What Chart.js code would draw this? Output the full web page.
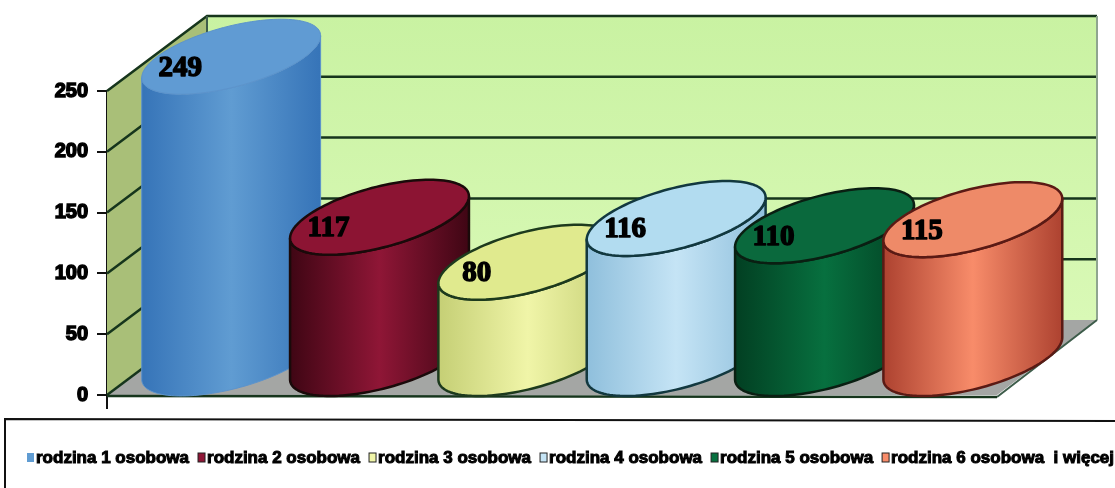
<!DOCTYPE html>
<html>
<head>
<meta charset="utf-8">
<title>Rodziny</title>
<script src="https://cdn.jsdelivr.net/npm/chart.js@4"></script>
<style>
    html, body { margin: 0; padding: 0; background: #fff; overflow: hidden; }
    #box { position: relative; width: 1115px; height: 488px; filter: blur(0.7px); }
</style>
</head>
<body>
<div id="box"><canvas id="chart"></canvas></div>
<script>
// dane
const categories = ['rodzina 1 osobowa', 'rodzina 2 osobowa', 'rodzina 3 osobowa',
    'rodzina 4 osobowa', 'rodzina 5 osobowa', 'rodzina 6 osobowa  i więcej'];
const values = [249, 117, 80, 116, 110, 115];
const yTicks = [0, 50, 100, 150, 200, 250];

// kolory walców: krawędź, środek, wieczko, obrys
const edgeColors = ['#3674b8', '#3f0614', '#c5cf75', '#8fbfdc', '#023f22', '#ad4230'];
const midColors = ['#609cd2', '#8f1636', '#f0f5a8', '#c5e4f5', '#07703f', '#f88c6a'];
const topColors = ['#609bd3', '#8c1433', '#e0ea8e', '#b2dcf0', '#0a693d', '#ee8a68'];
const lineColors = ['#5c93cc', '#1a0a0a', '#1d3a1d', '#12383f', '#0a1f12', '#5a1a14'];

const depthX = 100;
const depthY = 75;
const lineDark = '#16351c';

// rysowanie tła wykresu 3D
function drawWalls(chart) {
    const { ctx } = chart;
    const { x: xs, y: ys } = chart.scales;
    const left = xs.left, right = xs.right;
    const top = ys.getPixelForValue(250), bottom = ys.getPixelForValue(0);

    // tylna ściana
    const back = ctx.createLinearGradient(0, top - depthY, 0, bottom - depthY);
    back.addColorStop(0, '#c9f2a2');
    back.addColorStop(1, '#d9f9b6');
    ctx.fillStyle = back;
    ctx.fillRect(left + depthX, top - depthY, right - left, bottom - top);

    // lewa ściana
    ctx.fillStyle = '#a9bf78';
    ctx.beginPath();
    ctx.moveTo(left, top);
    ctx.lineTo(left + depthX, top - depthY);
    ctx.lineTo(left + depthX, bottom - depthY);
    ctx.lineTo(left, bottom);
    ctx.closePath();
    ctx.fill();

    // podłoga
    ctx.fillStyle = '#a4a6a4';
    ctx.beginPath();
    ctx.moveTo(left, bottom);
    ctx.lineTo(left + depthX, bottom - depthY);
    ctx.lineTo(right + depthX, bottom - depthY);
    ctx.lineTo(right, bottom);
    ctx.closePath();
    ctx.fill();

    // linie siatki
    ctx.strokeStyle = lineDark;
    ctx.lineWidth = 2.5;
    yTicks.forEach(t => {
        const y = ys.getPixelForValue(t);
        ctx.beginPath();
        ctx.moveTo(left, y);
        ctx.lineTo(left + depthX, y - depthY);
        if (t !== 0) ctx.lineTo(right + depthX, y - depthY);
        ctx.stroke();
    });

    ctx.lineWidth = 2;
    ctx.strokeStyle = '#8fa58f';
    ctx.beginPath();
    ctx.moveTo(right + depthX, top - depthY);
    ctx.lineTo(right + depthX, bottom - depthY);
    ctx.stroke();

    ctx.strokeStyle = '#3d5c4a';
    ctx.beginPath();
    ctx.moveTo(left + depthX, top - depthY);
    ctx.lineTo(left + depthX, bottom - depthY);
    ctx.moveTo(right, bottom + 2);
    ctx.lineTo(right + depthX, bottom - depthY);
    ctx.stroke();

    ctx.strokeStyle = lineDark;
    ctx.lineWidth = 2.5;
    ctx.beginPath();
    ctx.moveTo(left, bottom + 1);
    ctx.lineTo(right, bottom + 2);
    ctx.stroke();
}

// jeden walec na podstawie słupka z Chart.js
function drawCylinder(ctx, bar, i) {
    const hw = bar.width / 2;
    const dx = depthX / 2, dy = depthY / 2;
    const cx = bar.x + dx;
    const topY = bar.y - dy + 2;
    const baseY = bar.base - dy + 2;
    const t0 = Math.atan2(dx, hw);
    const ext = Math.hypot(hw, dx);
    const point = (t, cy) => [cx + hw * Math.cos(t) + dx * Math.sin(t), cy - dy * Math.sin(t)];

    ctx.save();
    ctx.lineJoin = 'round';
    ctx.lineWidth = i === 0 ? 1 : 2.5;
    ctx.strokeStyle = lineColors[i];

    // bok walca
    const grad = ctx.createLinearGradient(cx - ext, 0, cx + ext, 0);
    grad.addColorStop(0, edgeColors[i]);
    grad.addColorStop(0.5, midColors[i]);
    grad.addColorStop(1, edgeColors[i]);
    ctx.fillStyle = grad;
    ctx.beginPath();
    for (let k = 0; k <= 60; k++) {
        const p = point(t0 - Math.PI * k / 60, baseY);
        k === 0 ? ctx.moveTo(p[0], p[1]) : ctx.lineTo(p[0], p[1]);
    }
    for (let k = 60; k >= 0; k--) {
        const p = point(t0 - Math.PI * k / 60, topY);
        ctx.lineTo(p[0], p[1]);
    }
    ctx.closePath();
    ctx.fill();
    ctx.stroke();

    // wieczko
    ctx.fillStyle = topColors[i];
    ctx.beginPath();
    for (let k = 0; k < 120; k++) {
        const p = point(Math.PI * k / 60, topY);
        k === 0 ? ctx.moveTo(p[0], p[1]) : ctx.lineTo(p[0], p[1]);
    }
    ctx.closePath();
    ctx.fill();
    ctx.stroke();

    // etykieta wartości
    ctx.font = 'bold 29px "Liberation Serif"';
    ctx.textAlign = 'center';
    ctx.textBaseline = 'middle';
    ctx.fillStyle = '#000';
    ctx.strokeStyle = '#000';
    ctx.lineWidth = 1.5;
    ctx.fillText(values[i], bar.x - 1, bar.y - 24);
    ctx.strokeText(values[i], bar.x - 1, bar.y - 24);
    ctx.restore();
}

// legenda w ramce
function drawLegend(chart) {
    const { ctx } = chart;
    ctx.save();
    ctx.strokeStyle = '#111';
    ctx.lineWidth = 2;
    ctx.beginPath();
    ctx.moveTo(5, 488);
    ctx.lineTo(5, 419);
    ctx.lineTo(1115, 421);
    ctx.stroke();

    ctx.font = 'bold 17px "Liberation Sans"';
    ctx.textBaseline = 'middle';
    let x = 27;
    categories.forEach((name, i) => {
        ctx.fillStyle = midColors[i];
        ctx.fillRect(x, 453, 7, 9);
        if (i > 0) {
            ctx.strokeStyle = '#222';
            ctx.lineWidth = 1;
            ctx.strokeRect(x, 453, 7, 9);
        }
        ctx.fillStyle = '#000';
        ctx.fillText(name, x + 9, 458);
        ctx.strokeStyle = '#000';
        ctx.lineWidth = 1;
        ctx.strokeText(name, x + 9, 458);
        x += 9 + ctx.measureText(name).width + 9;
    });
    ctx.restore();
}

const cylinderPlugin = {
    id: 'cylinders',
    beforeDatasetsDraw(chart) {
        drawWalls(chart);
    },
    afterDatasetsDraw(chart) {
        chart.getDatasetMeta(0).data.forEach((bar, i) => drawCylinder(chart.ctx, bar, i));
        drawLegend(chart);
    }
};

new Chart(document.getElementById('chart'), {
    type: 'bar',
    data: {
        labels: categories,
        datasets: [{
            data: values,
            backgroundColor: 'transparent',
            barPercentage: 1,
            categoryPercentage: 1
        }]
    },
    plugins: [cylinderPlugin],
    options: {
        responsive: true,
        maintainAspectRatio: false,
        animation: false,
        layout: { padding: { top: 91, right: 118, bottom: 79, left: 0 } },
        plugins: {
            legend: { display: false },
            title: { display: false },
            tooltip: { enabled: false }
        },
        scales: {
            x: {
                afterFit(scale) { scale.height = 14; },
                ticks: { display: false },
                border: { display: false },
                grid: {
                    drawOnChartArea: false,
                    tickLength: 14,
                    lineWidth: 2,
                    color: c => (c.index === 0 || c.index === categories.length) ? '#111' : 'transparent'
                }
            },
            y: {
                min: 0,
                max: 250,
                afterFit(scale) { scale.width = 107; },
                afterBuildTicks(scale) { scale.ticks = yTicks.map(v => ({ value: v })); },
                border: { color: '#111', width: 2 },
                grid: {
                    drawOnChartArea: false,
                    tickLength: 10,
                    lineWidth: 2,
                    color: '#111'
                },
                ticks: {
                    color: '#000',
                    padding: 9,
                    font: { family: 'Liberation Sans', weight: 'bold', size: 20 },
                    textStrokeColor: '#000',
                    textStrokeWidth: 1.5
                }
            }
        }
    }
});
</script>
</body>
</html>
